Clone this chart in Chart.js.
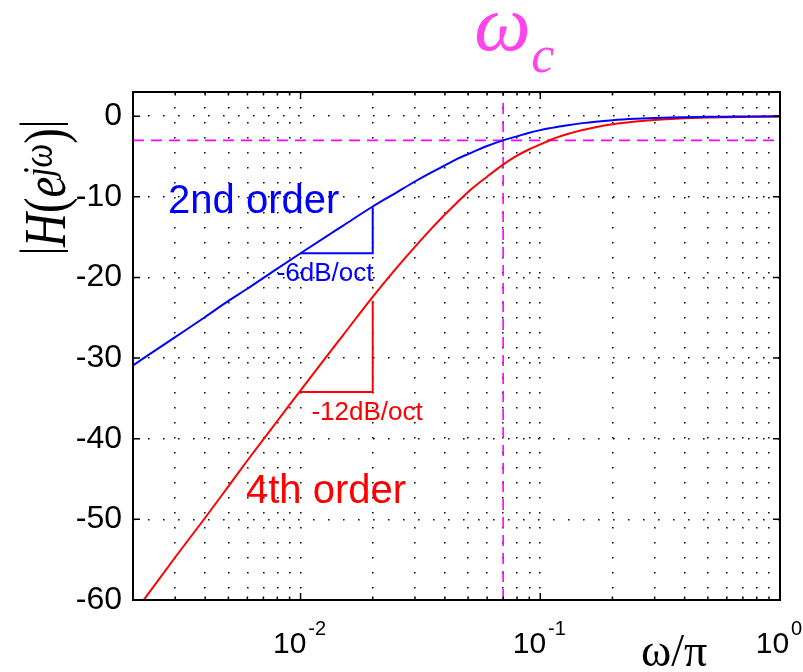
<!DOCTYPE html>
<html>
<head>
<meta charset="utf-8">
<script src="https://cdn.jsdelivr.net/npm/chart.js@4"></script>
<style>
  body { margin: 0; background: #fff; }
  #wrap { width: 803px; height: 672px; }
</style>
</head>
<body>
<div id="wrap"><canvas id="graph" width="803" height="672"></canvas></div>
<script>
// normalised frequency (omega/pi) and magnitude in dB
const freq = [0.002, 0.003, 0.004, 0.005, 0.006, 0.008, 0.01, 0.015, 0.02, 0.025, 0.03, 0.035, 0.04, 0.045,
              0.05, 0.06, 0.07, 0.08, 0.09, 0.1, 0.11, 0.12, 0.13, 0.15, 0.17, 0.2, 0.25, 0.3, 0.35, 0.4,
              0.5, 0.6, 0.7, 0.8, 1];
const order2Db = [-30.9, -27.4, -24.9, -22.9, -21.4, -18.9, -17.0, -13.6, -11.2, -9.5, -8.1, -7.0, -6.1, -5.3,
                  -4.7, -3.7, -3.0, -2.5, -2.06, -1.73, -1.48, -1.27, -1.11, -0.86, -0.68, -0.50, -0.33, -0.23, -0.17, -0.13,
                  -0.08, -0.06, -0.04, -0.03, -0.02];
const order4Db = [-61.8, -54.7, -49.8, -45.9, -42.7, -37.8, -34.0, -27.2, -22.4, -18.9, -16.2, -14.0, -12.2, -10.7,
                  -9.4, -7.5, -6.0, -4.9, -4.1, -3.5, -2.95, -2.54, -2.21, -1.71, -1.36, -1.0, -0.66, -0.46, -0.34, -0.26,
                  -0.17, -0.12, -0.09, -0.07, -0.04];

// slope triangles
const slope2X = [0.01, 0.02, 0.02];
const slope2Y = [-17.0, -17.0, -11.3];
const slope4X = [0.01, 0.02, 0.02];
const slope4Y = [-34.2, -34.2, -22.9];

// cutoff markers
const cutoffFreq = 0.07;
const cutoffDb = -3;

// axes
const xMin = 0.002, xMax = 1;
const yMin = -60, yMax = 3;
const yTicks = [-60, -50, -40, -30, -20, -10, 0];
const xDecades = [0.001, 0.01, 0.1, 1];
const xMantissa = [1, 2, 3, 4, 5, 6, 7, 8, 9];
const xLabelDecades = [0.01, 0.1, 1];

const xGrid = [];
xDecades.forEach(d => xMantissa.forEach(m => {
    const v = +(d * m).toPrecision(3);
    if (v >= xMin && v <= xMax) xGrid.push(v);
}));

function pts(xs, ys) {
    return xs.map((x, i) => ({ x: x, y: ys[i] }));
}

const SANS = '"Liberation Sans", Arial, sans-serif';
const SERIF = '"Liberation Serif", "DejaVu Serif", serif';

const framePlugin = {
    id: 'frame',
    afterDraw(chart) {
        const ctx = chart.ctx;
        const a = chart.chartArea;
        const xs = chart.scales.x, ys = chart.scales.y;

        ctx.save();
        // inner tick marks
        ctx.strokeStyle = '#000';
        ctx.lineWidth = 1.5;
        ctx.beginPath();
        yTicks.forEach(v => {
            const y = ys.getPixelForValue(v);
            ctx.moveTo(a.left, y); ctx.lineTo(a.left + 7, y);
            ctx.moveTo(a.right, y); ctx.lineTo(a.right - 7, y);
        });
        xGrid.forEach(v => {
            const x = xs.getPixelForValue(v);
            const len = xLabelDecades.includes(v) ? 7 : 3.5;
            ctx.moveTo(x, a.bottom); ctx.lineTo(x, a.bottom - len);
            ctx.moveTo(x, a.top); ctx.lineTo(x, a.top + len);
        });
        ctx.stroke();

        // box
        ctx.lineWidth = 2;
        ctx.strokeRect(a.left, a.top, a.right - a.left, a.bottom - a.top);

        // x tick labels 10^n
        ctx.fillStyle = '#000';
        ctx.textAlign = 'left';
        ctx.textBaseline = 'alphabetic';
        xLabelDecades.forEach(v => {
            const x = xs.getPixelForValue(v);
            const ex = String(Math.round(Math.log10(v)));
            ctx.font = '30px ' + SANS;
            const wb = ctx.measureText('10').width;
            ctx.font = '20px ' + SANS;
            const we = ctx.measureText(ex).width;
            const start = x - (wb + 2 + we) / 2 - 1;
            ctx.font = '30px ' + SANS;
            ctx.fillText('10', start, 653);
            ctx.font = '20px ' + SANS;
            ctx.fillText(ex, start + wb + 2, 635);
        });

        // x axis title
        ctx.font = '46px ' + SERIF;
        ctx.fillText('ω/π', 641, 666);

        // y axis title |H(e^{jω})|, rotated
        const parts = [
            { t: '|', f: '52px ' + SERIF, r: 8 },
            { t: 'H', f: 'italic 60px ' + SERIF, r: 0 },
            { t: '(', f: '60px ' + SERIF, r: 0 },
            { t: 'e', f: 'italic 60px ' + SERIF, r: 0 },
            { t: 'jω', f: 'italic 43px ' + SERIF, r: 13 },
            { t: ')', f: '60px ' + SERIF, r: 0 },
            { t: '|', f: '52px ' + SERIF, r: 8 }
        ];
        let total = 0;
        parts.forEach(p => { ctx.font = p.f; p.w = ctx.measureText(p.t).width; total += p.w; });
        ctx.save();
        ctx.translate(65, 255);
        ctx.rotate(-Math.PI / 2);
        ctx.scale(135 / total, 1);
        let px = 0;
        parts.forEach(p => { ctx.font = p.f; ctx.fillText(p.t, px, -p.r); px += p.w; });
        ctx.restore();

        // omega_c label above the cutoff line
        const xc = xs.getPixelForValue(cutoffFreq);
        ctx.fillStyle = '#ff44ee';
        ctx.font = 'italic 80px ' + SERIF;
        ctx.fillText('ω', xc - 29, 50);
        ctx.font = 'italic 52px ' + SERIF;
        ctx.fillText('c', xc + 28, 72);

        // curve annotations
        const note = (txt, x, y, color, size) => {
            ctx.fillStyle = color;
            ctx.font = size + 'px ' + SANS;
            ctx.fillText(txt, xs.getPixelForValue(x), ys.getPixelForValue(y));
        };
        note('2nd order', 0.0028, -12.0, '#0000ff', 40);
        note('-6dB/oct', 0.00795, -20.5, '#0000ff', 26);
        note('-12dB/oct', 0.0111, -37.7, '#ff0000', 26);
        note('4th order', 0.00592, -48.0, '#ff0000', 40);
        ctx.restore();
    }
};

const dotGrid = { color: '#111', lineWidth: 1.6, drawTicks: false };

new Chart(document.getElementById('graph').getContext('2d'), {
    type: 'line',
    data: {
        datasets: [
            { data: pts(freq, order2Db), borderColor: '#0000ff', borderWidth: 2, cubicInterpolationMode: 'monotone' },
            { data: pts(freq, order4Db), borderColor: '#ff0000', borderWidth: 2, cubicInterpolationMode: 'monotone' },
            { data: pts(slope2X, slope2Y), borderColor: '#0000ff', borderWidth: 2 },
            { data: pts(slope4X, slope4Y), borderColor: '#ff0000', borderWidth: 2 },
            { data: pts([cutoffFreq, cutoffFreq], [yMin, yMax]), borderColor: '#ff00ff', borderWidth: 1.6, borderDash: [11, 7] },
            { data: pts([xMin, xMax], [cutoffDb, cutoffDb]), borderColor: '#ff00ff', borderWidth: 1.6, borderDash: [11, 7] }
        ]
    },
    options: {
        responsive: false,
        animation: false,
        layout: { padding: { top: 92, right: 23, left: 0, bottom: 0 } },
        elements: { point: { radius: 0 }, line: { fill: false } },
        plugins: { legend: { display: false }, tooltip: { enabled: false } },
        scales: {
            x: {
                type: 'logarithmic',
                min: xMin,
                max: xMax,
                afterBuildTicks: s => { s.ticks = xGrid.map(v => ({ value: v, major: xLabelDecades.includes(v) })); },
                afterFit: s => { s.height = 72; },
                ticks: { autoSkip: false, callback: () => '' },
                grid: dotGrid,
                border: { display: false, dash: [1.6, 13.4] }
            },
            y: {
                min: yMin,
                max: yMax,
                afterBuildTicks: s => { s.ticks = yTicks.map(v => ({ value: v })); },
                afterFit: s => { s.width = 133; },
                ticks: {
                    callback: v => String(v),
                    color: '#000',
                    padding: 11,
                    font: { family: 'Liberation Sans', size: 32 }
                },
                grid: dotGrid,
                border: { display: false, dash: [1.6, 13.4] }
            }
        }
    },
    plugins: [framePlugin]
});
</script>
</body>
</html>
